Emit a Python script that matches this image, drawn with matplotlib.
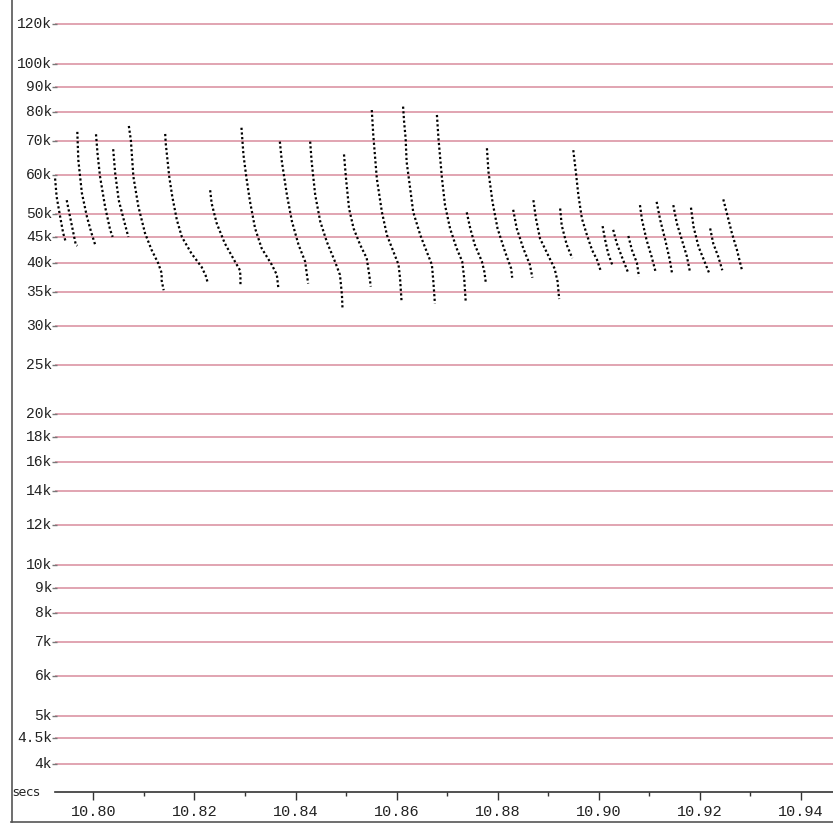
#!/usr/bin/env python3
"""Throughput sawtooth (log scale), tcptrace-style look."""

import numpy as np
import matplotlib
matplotlib.use("Agg")
import matplotlib.pyplot as plt
from matplotlib.lines import Line2D
from matplotlib.ticker import FixedLocator, FormatStrFormatter, NullFormatter

W, H, DPI = 833, 824, 100
C_GRID = "#d98c9c"
C_TICK = "#777777"
C_BORDER = "#555555"
MONO = ["Liberation Mono", "DejaVu Sans Mono"]

# one list per burst: time (s) and rate (thousands)
burst_t = [
    [10.7924, 10.7927, 10.7934, 10.7940, 10.7945],
    [10.7947, 10.7957, 10.7965, 10.7968],
    [10.7968, 10.7970, 10.7977, 10.7987, 10.7996, 10.8004],
    [10.8005, 10.8008, 10.8013, 10.8023, 10.8033, 10.8038],
    [10.8039, 10.8043, 10.8050, 10.8060, 10.8069],
    [10.8070, 10.8074, 10.8079, 10.8089, 10.8102, 10.8115, 10.8128, 10.8135, 10.8135, 10.8139],
    [10.8142, 10.8143, 10.8150, 10.8156, 10.8165, 10.8175, 10.8194, 10.8214, 10.8222, 10.8226],
    [10.8231, 10.8234, 10.8244, 10.8260, 10.8280, 10.8290, 10.8291, 10.8291],
    [10.8293, 10.8297, 10.8303, 10.8310, 10.8320, 10.8333, 10.8353, 10.8363, 10.8366],
    [10.8369, 10.8373, 10.8383, 10.8393, 10.8406, 10.8419, 10.8425],
    [10.8429, 10.8432, 10.8439, 10.8449, 10.8462, 10.8478, 10.8488, 10.8492, 10.8493],
    [10.8496, 10.8500, 10.8506, 10.8515, 10.8528, 10.8541, 10.8546, 10.8549],
    [10.8551, 10.8554, 10.8561, 10.8571, 10.8581, 10.8594, 10.8604, 10.8607, 10.8610],
    [10.8613, 10.8615, 10.8618, 10.8620, 10.8627, 10.8633, 10.8647, 10.8660, 10.8670, 10.8673, 10.8676],
    [10.8680, 10.8683, 10.8690, 10.8696, 10.8706, 10.8719, 10.8730, 10.8734, 10.8737],
    [10.8739, 10.8746, 10.8755, 10.8769, 10.8774, 10.8777],
    [10.8779, 10.8782, 10.8790, 10.8800, 10.8815, 10.8827, 10.8829],
    [10.8831, 10.8838, 10.8851, 10.8864, 10.8869],
    [10.8871, 10.8876, 10.8884, 10.8897, 10.8913, 10.8919, 10.8922],
    [10.8924, 10.8927, 10.8937, 10.8948],
    [10.8950, 10.8955, 10.8960, 10.8967, 10.8977, 10.8987, 10.8997, 10.9005],
    [10.9008, 10.9013, 10.9019, 10.9027],
    [10.9029, 10.9036, 10.9046, 10.9058],
    [10.9059, 10.9066, 10.9076, 10.9080],
    [10.9082, 10.9086, 10.9095, 10.9105, 10.9113],
    [10.9115, 10.9122, 10.9132, 10.9141, 10.9146],
    [10.9148, 10.9155, 10.9165, 10.9175, 10.9181],
    [10.9183, 10.9188, 10.9198, 10.9211, 10.9219],
    [10.9221, 10.9227, 10.9237, 10.9245],
    [10.9247, 10.9254, 10.9264, 10.9274, 10.9284],
]
burst_k = [
    [59.0, 54.3, 49.5, 45.9, 44.1],
    [53.4, 47.6, 43.5, 43.3],
    [73.1, 64.2, 55.2, 49.5, 45.9, 43.3],
    [72.3, 66.2, 59.5, 51.8, 46.6, 45.1],
    [67.5, 60.4, 53.4, 48.8, 45.1],
    [75.1, 70.4, 59.5, 51.8, 45.9, 42.5, 40.0, 38.2, 36.9, 35.3],
    [72.4, 69.4, 59.5, 54.3, 48.8, 45.1, 41.8, 39.3, 37.8, 36.6],
    [55.9, 52.6, 48.0, 43.8, 40.3, 38.7, 37.6, 35.9],
    [74.5, 65.7, 59.0, 53.0, 46.9, 42.8, 39.7, 37.9, 35.7],
    [69.9, 63.7, 54.7, 48.4, 43.5, 40.3, 36.4],
    [69.9, 63.7, 54.7, 48.4, 44.1, 40.3, 37.9, 34.5, 32.5],
    [65.9, 59.0, 51.4, 46.9, 43.5, 40.9, 37.9, 35.9],
    [80.8, 72.0, 59.0, 50.6, 45.5, 42.1, 39.7, 37.3, 33.5],
    [82.1, 76.6, 71.0, 63.7, 56.4, 50.6, 45.5, 42.1, 39.7, 36.7, 33.2],
    [79.0, 71.0, 59.0, 52.2, 46.9, 42.8, 40.3, 37.3, 33.5],
    [50.5, 46.9, 43.5, 40.3, 38.4, 36.4],
    [67.8, 60.9, 53.0, 46.9, 42.1, 39.0, 37.4],
    [51.1, 46.9, 42.8, 39.7, 37.4],
    [53.4, 49.1, 44.8, 42.1, 39.0, 36.7, 33.9],
    [51.4, 47.6, 43.5, 40.9],
    [67.2, 60.9, 54.7, 49.1, 45.5, 42.5, 40.6, 38.4],
    [47.4, 44.5, 41.8, 39.7],
    [46.6, 43.8, 41.2, 38.4],
    [45.3, 42.5, 40.0, 37.6],
    [52.2, 48.8, 44.5, 41.2, 38.4],
    [53.0, 48.8, 44.5, 40.6, 37.9],
    [52.2, 48.0, 44.5, 41.2, 38.4],
    [51.6, 47.3, 43.1, 40.0, 38.2],
    [46.9, 43.8, 41.2, 38.7],
    [53.6, 50.3, 45.9, 42.5, 38.7],
]

ytick_vals = [4000, 4500, 5000, 6000, 7000, 8000, 9000, 10000, 12000, 14000,
              16000, 18000, 20000, 25000, 30000, 35000, 40000, 45000, 50000,
              60000, 70000, 80000, 90000, 100000, 120000]
ytick_text = ["4k", "4.5k", "5k", "6k", "7k", "8k", "9k", "10k", "12k", "14k",
              "16k", "18k", "20k", "25k", "30k", "35k", "40k", "45k", "50k",
              "60k", "70k", "80k", "90k", "100k", "120k"]
xmajor = [10.80, 10.82, 10.84, 10.86, 10.88, 10.90, 10.92, 10.94]
xminor = [10.81, 10.83, 10.85, 10.87, 10.89, 10.91, 10.93]

X0, X1 = 10.78367, 10.94642
Y0, Y1 = 3518, 134000


def px_to_t(px):
    # figure pixel column -> data time
    return X0 + (px - 11) / (W - 11) * (X1 - X0)


fig = plt.figure(figsize=(W / DPI, H / DPI), dpi=DPI)
ax = fig.add_axes([11 / W, 32 / H, 1 - 11 / W, 1 - 32 / H])
ax.set_yscale("log")
ax.set_xlim(X0, X1)
ax.set_ylim(Y0, Y1)

# horizontal grid with short gray tick stubs in front
ax.hlines(ytick_vals, px_to_t(55), X1, colors=C_GRID, linewidth=1.1, zorder=1)
ax.hlines(ytick_vals, px_to_t(52), px_to_t(57), colors=C_TICK, linewidth=1.0, zorder=2)
for v, s in zip(ytick_vals, ytick_text):
    ax.text(px_to_t(52), v, s, ha="right", va="center", fontsize=10.5,
            family=MONO, color="#222222", zorder=3)

# the bursts, drawn as dotted runs
for ts, ks in zip(burst_t, burst_k):
    ax.plot(ts, np.array(ks) * 1000, color="black", linewidth=1.6,
            linestyle=(0, (1, 1.1)), zorder=4)

ax.set_yticks([])
ax.yaxis.set_minor_formatter(NullFormatter())
ax.tick_params(axis="y", which="both", left=False, labelleft=False)
ax.xaxis.set_major_locator(FixedLocator(xmajor))
ax.xaxis.set_minor_locator(FixedLocator(xminor))
ax.xaxis.set_major_formatter(FormatStrFormatter("%.2f"))
ax.tick_params(axis="x", which="major", direction="out", length=6, width=1,
               color="#333333", pad=3, labelsize=11)
ax.tick_params(axis="x", which="minor", direction="out", length=3, width=1,
               color="#333333")
for lab in ax.get_xticklabels():
    lab.set_family(MONO)
    lab.set_color("#222222")

for side in ("left", "top", "right"):
    ax.spines[side].set_visible(False)
ax.spines["bottom"].set_bounds(px_to_t(55), X1)
ax.spines["bottom"].set_color("#333333")
ax.spines["bottom"].set_linewidth(1.2)
ax.set_facecolor("white")

ax.text(px_to_t(12), Y0, "secs", ha="left", va="center", fontsize=9,
        family="DejaVu Sans", color="#222222")

# outer frame pieces: left rule and bottom rule
fig.add_artist(Line2D([11.5 / W, 11.5 / W], [2 / H, 1], color=C_BORDER, linewidth=1.2))
fig.add_artist(Line2D([11 / W, 1], [2.5 / H, 2.5 / H], color=C_BORDER, linewidth=1.2))

fig.savefig("out.png", dpi=DPI, facecolor="white")
